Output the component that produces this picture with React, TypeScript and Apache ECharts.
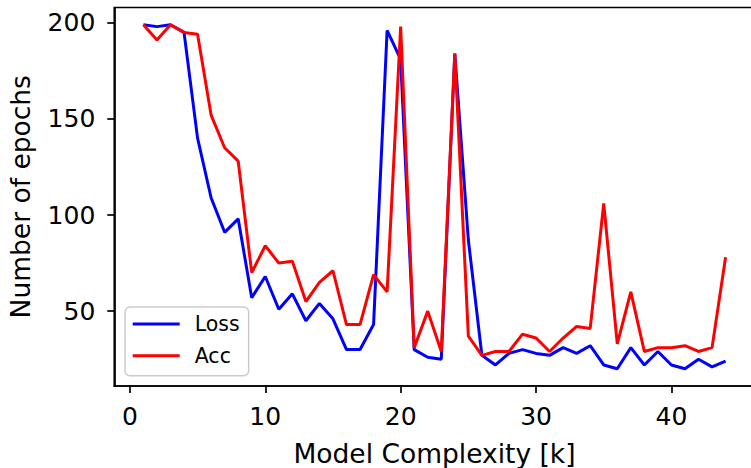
import React, { useEffect, useRef } from "react";
import * as echarts from "echarts";

const complexity = [1, 2, 3, 4, 5, 6, 7, 8, 9, 10, 11, 12, 13, 14, 15, 16, 17, 18, 19, 20, 21, 22, 23, 24, 25, 26, 27, 28, 29, 30, 31, 32, 33, 34, 35, 36, 37, 38, 39, 40, 41, 42, 43, 44];
const lossEpochs = [199, 198, 199, 195, 140, 109, 91, 98, 57, 68, 51, 59, 45, 54, 46, 30, 30, 43, 196, 181, 30, 26, 25, 184, 87, 27, 22, 28, 30, 28, 27, 31, 28, 32, 22, 20, 31, 22, 29, 22, 20, 25, 21, 24];
const accEpochs = [199, 191, 199, 195, 194, 152, 135, 128, 70, 84, 75, 76, 55, 65, 71, 43, 43, 69, 60, 198, 31, 50, 29, 184, 37, 27, 29, 29, 38, 36, 29, 36, 42, 41, 106, 33, 60, 29, 31, 31, 32, 29, 31, 78];
const xTicks = [0, 10, 20, 30, 40];
const yTicks = [50, 100, 150, 200];

const FONT = "DejaVu Sans";

export default function App() {
  const ref = useRef<HTMLDivElement>(null);
  useEffect(() => {
    if (!ref.current) return;
    const chart = echarts.init(ref.current, null, { renderer: "svg" });
    const axisLineStyle = { color: "#000", width: 1.7 };
    chart.setOption({
      animation: false,
      backgroundColor: "#fff",
      grid: {
        left: 114.3,
        top: 7.5,
        width: 640.4,
        height: 378.5,
        outerBoundsMode: "none",
        containLabel: false,
        show: true,
        borderColor: "#000",
        borderWidth: 1.7,
        backgroundColor: "transparent",
      },
      xAxis: {
        type: "value",
        min: -1.15,
        max: 46.15,
        name: "Model Complexity [k]",
        nameLocation: "middle",
        nameGap: 54,
        nameTextStyle: { fontFamily: FONT, fontSize: 26.5, color: "#000" },
        axisLine: { show: true, onZero: false, lineStyle: axisLineStyle },
        axisTick: { show: true, length: 7, lineStyle: axisLineStyle, customValues: xTicks },
        axisLabel: { fontFamily: FONT, fontSize: 25, color: "#000", margin: 18, customValues: xTicks },
        splitLine: { show: false },
      },
      yAxis: {
        type: "value",
        min: 11.05,
        max: 207.95,
        name: "Number of epochs",
        nameLocation: "middle",
        nameGap: 80,
        nameTextStyle: { fontFamily: FONT, fontSize: 26.5, color: "#000" },
        axisLine: { show: true, onZero: false, lineStyle: axisLineStyle },
        axisTick: { show: true, length: 7, lineStyle: axisLineStyle, customValues: yTicks },
        axisLabel: { fontFamily: FONT, fontSize: 25, color: "#000", margin: 19, customValues: yTicks },
        splitLine: { show: false },
      },
      legend: {
        orient: "vertical",
        left: 125,
        top: 307,
        padding: [6.5, 9, 9.5, 7.7],
        itemGap: 10.7,
        itemWidth: 57,
        itemHeight: 3,
        icon: "path://M0,0H47V3H0Z M56.98,0H57V3H56.98Z",
        backgroundColor: "rgba(255,255,255,0.8)",
        borderColor: "#cccccc",
        borderWidth: 1.5,
        borderRadius: 5,
        textStyle: { fontFamily: FONT, fontSize: 20.5, color: "#000", lineHeight: 21 },
        data: ["Loss", "Acc"],
      },
      series: [
        {
          name: "Loss",
          type: "line",
          data: complexity.map((x, i) => [x, lossEpochs[i]]),
          symbol: "none",
          color: "#0000ff",
          lineStyle: { color: "#0000ff", width: 3 },
        },
        {
          name: "Acc",
          type: "line",
          data: complexity.map((x, i) => [x, accEpochs[i]]),
          symbol: "none",
          color: "#ff0000",
          lineStyle: { color: "#ff0000", width: 3 },
        },
      ],
    });
    return () => chart.dispose();
  }, []);
  return (
    <div style={{ position: "fixed", left: 0, top: 0, width: 751, height: 468, overflow: "hidden", background: "#fff" }}>
      <div ref={ref} style={{ width: 770, height: 468 }} />
    </div>
  );
}
